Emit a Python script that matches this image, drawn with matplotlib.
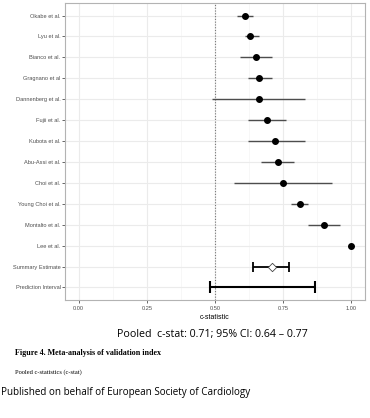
import numpy as np
import matplotlib.pyplot as plt

studies = ['Okabe et al.', 'Lyu et al.', 'Bianco et al.', 'Gragnano et al', 'Dannenberg et al.',
           'Fujii et al.', 'Kubota et al.', 'Abu-Assi et al.', 'Choi et al.', 'Young Choi et al.',
           'Montalto et al.', 'Lee et al.']
cstat = [0.61, 0.63, 0.65, 0.66, 0.66, 0.69, 0.72, 0.73, 0.75, 0.81, 0.90, 1.00]
lower = [0.58, 0.61, 0.59, 0.62, 0.49, 0.62, 0.62, 0.67, 0.57, 0.78, 0.84, 1.00]
upper = [0.64, 0.66, 0.71, 0.71, 0.83, 0.76, 0.83, 0.79, 0.93, 0.84, 0.96, 1.00]

summary = 0.71
summary_ci = [0.64, 0.77]
pred_interval = [0.48, 0.865]

labels = studies + ['Summary Estimate', 'Prediction Interval']
xticks = [0.0, 0.25, 0.5, 0.75, 1.0]

plt.rcParams['font.family'] = ['Liberation Sans', 'DejaVu Sans']

fig = plt.figure(figsize=(3.7, 4.18), dpi=100)
ax = fig.add_axes([65 / 370, 1 - 300 / 418, 300 / 370, 297 / 418])

n = len(labels)
ypos = np.arange(n, 0, -1)  # top row first

# grid
for x in np.arange(0, 1.01, 0.25):
    ax.axvline(x, color='#ebebeb', lw=0.8, zorder=0)
for x in np.arange(0.125, 1.0, 0.25):
    ax.axvline(x, color='#f4f4f4', lw=0.5, zorder=0)
for y in ypos:
    ax.axhline(y, color='#ebebeb', lw=0.8, zorder=0)

ax.axvline(0.5, color='#777777', lw=0.8, ls=(0, (1, 1.5)), zorder=1)

ys = ypos[:len(studies)]
ax.hlines(ys, lower, upper, color='#4d4d4d', lw=1.0, zorder=2)
ax.scatter(cstat, ys, s=16, color='black', zorder=3)

# summary estimate
ax.errorbar([summary], [ypos[-2]], xerr=[[summary - summary_ci[0]], [summary_ci[1] - summary]],
            fmt='none', ecolor='black', elinewidth=1.3, capsize=3.5, capthick=1.3, zorder=2)
ax.scatter([summary], [ypos[-2]], marker='D', s=18, facecolor='white', edgecolor='#444444',
           linewidth=0.6, zorder=3)

# prediction interval
mid = (pred_interval[0] + pred_interval[1]) / 2
ax.errorbar([mid], [ypos[-1]], xerr=[[mid - pred_interval[0]], [pred_interval[1] - mid]],
            fmt='none', ecolor='black', elinewidth=1.5, capsize=4, capthick=1.5, zorder=2)

ax.set_xlim(-0.05, 1.05)
ax.set_ylim(0.4, n + 0.6)
ax.set_xticks(xticks)
ax.set_xticklabels(['0.00', '0.25', '0.50', '0.75', '1.00'])
ax.set_yticks(ypos)
ax.set_yticklabels(labels)
ax.tick_params(labelsize=4.1, colors='#4d4d4d', length=2, width=0.6, pad=1.2)
ax.tick_params(axis='x', pad=2.5)
for s in ax.spines.values():
    s.set_color('#b3b3b3')
    s.set_linewidth(0.8)
ax.set_xlabel('c-statistic', fontsize=5.0, labelpad=2)

fig.text(212 / 370, 1 - 335 / 418, 'Pooled  c-stat: 0.71; 95% CI: 0.64 \u2013 0.77',
         ha='center', va='center', fontsize=7.7, family='Open Sans')
fig.text(15 / 370, 1 - 353 / 418, 'Figure 4. Meta-analysis of validation index',
         ha='left', va='center', fontsize=5.8, family='Liberation Serif', weight='bold')
fig.text(15 / 370, 1 - 372 / 418, 'Pooled c-statistics (c-stat)',
         ha='left', va='center', fontsize=4.6, family='Liberation Serif')
fig.text(1 / 370, 1 - 393 / 418, 'Published on behalf of European Society of Cardiology',
         ha='left', va='center', fontsize=7.1, family='Open Sans')

fig.savefig('out.png', dpi=100)
